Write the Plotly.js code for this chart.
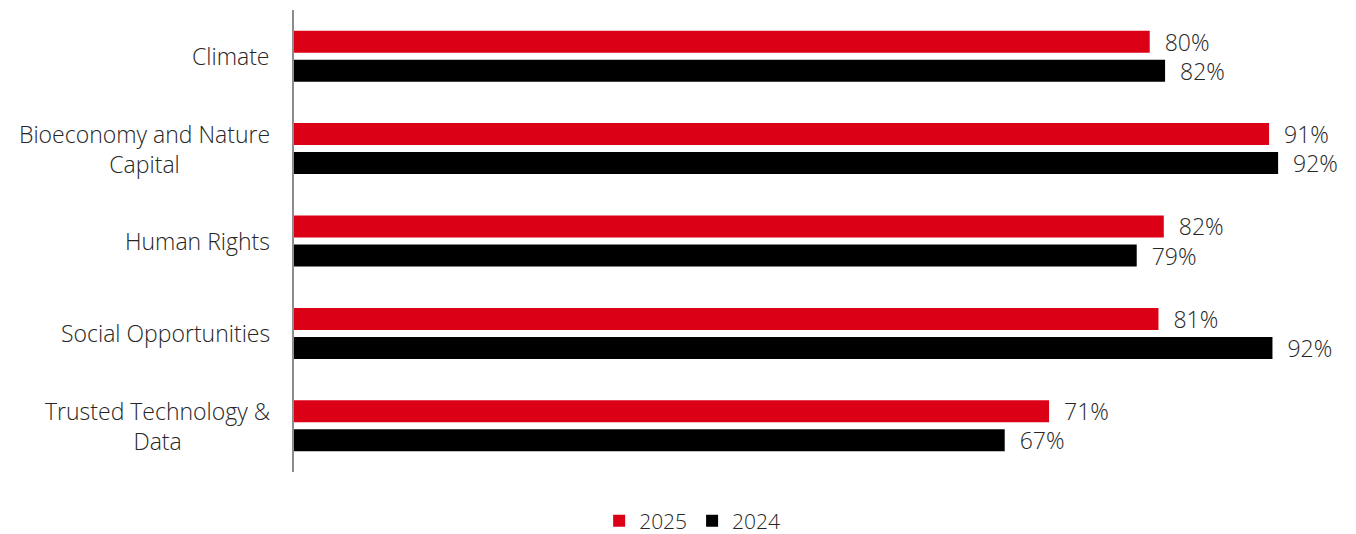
<!DOCTYPE html>
<html>
<head>
<meta charset="utf-8">
<script src="https://cdn.plot.ly/plotly-3.0.1.min.js"></script>
<style>html,body{margin:0;padding:0;background:#fff;}#chart{width:1356px;height:534px;}</style>
</head>
<body>
<div id="chart"></div>
<script>
const categories = ["Climate", "Bioeconomy and Nature Capital", "Human Rights", "Social Opportunities", "Trusted Technology & Data"];
const categoryLabels = ["Climate", "Bioeconomy and Nature<br>Capital", "Human Rights", "Social Opportunities", "Trusted Technology &<br>Data"];
const values2025 = [80.25, 91.44, 81.57, 81.07, 70.81];
const values2024 = [81.69, 92.29, 79.03, 91.76, 66.65];
const labels2025 = ["80%", "91%", "82%", "81%", "71%"];
const labels2024 = ["82%", "92%", "79%", "92%", "67%"];
const seriesNames = ["2025", "2024"];

const FONT = "'Open Sans', Roboto, 'Liberation Sans', Arial, sans-serif";
const TXT = "#262626";
const pad = "\u00a0\u00a0";

const traces = [
  {
    type: "bar", orientation: "h", name: seriesNames[0],
    y: categories, x: values2025,
    text: labels2025.map(t => pad + t), textposition: "outside", cliponaxis: false, constraintext: "none",
    textfont: {family: FONT, size: 23, color: TXT, weight: 300},
    marker: {color: "#dc0016"}, hoverinfo: "skip"
  },
  {
    type: "bar", orientation: "h", name: seriesNames[1],
    y: categories, x: values2024,
    text: labels2024.map(t => pad + t), textposition: "outside", cliponaxis: false, constraintext: "none",
    textfont: {family: FONT, size: 23, color: TXT, weight: 300},
    marker: {color: "#000000"}, hoverinfo: "skip"
  }
];

const annotations = categories.map((c, i) => ({
  xref: "paper", yref: "y", x: 0, y: c,
  xanchor: "right", yanchor: "middle", xshift: -22,
  align: "center", showarrow: false,
  text: categoryLabels[i],
  font: {family: FONT, size: 23, color: TXT, weight: 300}
}));

const layout = {
  width: 1356, height: 534,
  margin: {l: 294, r: 17, t: 10, b: 62, autoexpand: false},
  paper_bgcolor: "#ffffff", plot_bgcolor: "#ffffff",
  barmode: "group", bargap: 0.372, bargroupgap: 0.242,
  showlegend: true,
  legend: {
    orientation: "h", x: 0.381, xanchor: "center", yref: "container", y: 0.024, yanchor: "middle",
    font: {family: FONT, size: 21, color: TXT, weight: 300},
    traceorder: "normal", itemwidth: 30
  },
  xaxis: {range: [0, 98], showgrid: false, zeroline: false, showticklabels: false, showline: false, ticks: ""},
  yaxis: {
    autorange: "reversed", showgrid: false, zeroline: false,
    showticklabels: false, ticks: "",
    showline: true, linecolor: "#8c8c8c", linewidth: 2
  },
  annotations: annotations
};

Plotly.newPlot("chart", traces, layout, {displayModeBar: false, staticPlot: true});
</script>
</body>
</html>
